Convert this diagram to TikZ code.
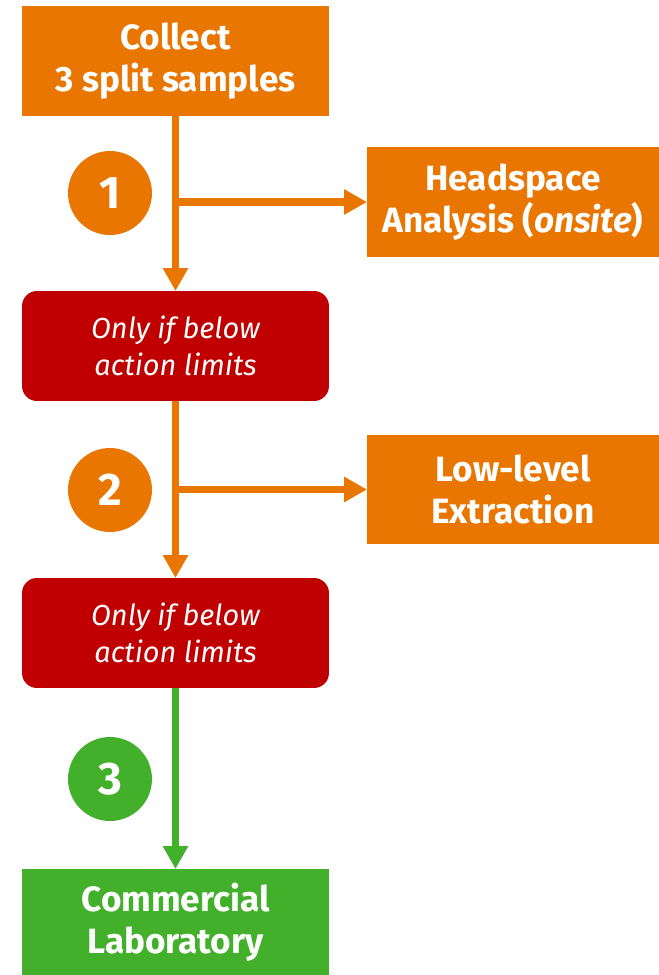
\documentclass[tikz,border=0pt]{standalone}
\usepackage{fontspec}
\setmainfont{Fira Sans}
\usetikzlibrary{arrows.meta}
\tikzset{>={Triangle[length=4.6mm,width=4.8mm]}}
\definecolor{sorange}{RGB}{233,118,0}
\definecolor{sred}{RGB}{192,0,0}
\definecolor{sgreen}{RGB}{67,176,44}

\begin{document}
\begin{tikzpicture}[x=0.02cm,y=-0.02cm,line width=4.5pt,
    box/.style={fill=#1,text=white,align=center,inner sep=0pt,outer sep=0pt,
      minimum width=6.14cm,minimum height=2.2cm,
      font=\fontsize{20}{24}\selectfont\bfseries},
    sidebox/.style={box=sorange,minimum width=5.84cm},
    limitbox/.style={box=sred,rounded corners=0.3cm,
      font=\fontsize{16.5}{21}\selectfont\itshape},
    stepnum/.style={circle,fill=#1,text=white,inner sep=0pt,
      minimum size=1.68cm,font=\fontsize{26}{30}\selectfont\bfseries}]
  \useasboundingbox (0,0) rectangle (659,975);
  % boxes down the left side
  \node[box=sorange] (collect) at (175.5,61) {Collect\\3 split samples};
  \node[limitbox] (limitA) at (175.5,346) {Only if below\\action limits};
  \node[limitbox] (limitB) at (175.5,633) {Only if below\\action limits};
  \node[box=sgreen,minimum height=2.12cm] (lab) at (175.5,922)
    {Commercial\\Laboratory};
  % boxes on the right
  \node[sidebox] (head) at (513,202) {Headspace\\Analysis (\textit{onsite})};
  \node[sidebox] (lowlev) at (513,489.5) {Low-level\\Extraction};
  % step numbers
  \node[stepnum=sorange] (one) at (110,193) {1};
  \node[stepnum=sorange] (two) at (110,490) {2};
  \node[stepnum=sgreen] (three) at (110,779) {3};
  % arrows
  \draw[->,sorange] (collect) -- (limitA);
  \draw[->,sorange] (collect.south |- head.west) -- (head.west);
  \draw[->,sorange] (limitA) -- (limitB);
  \draw[->,sorange] (limitA.south |- lowlev.west) -- (lowlev.west);
  \draw[->,sgreen] (limitB) -- (lab);
\end{tikzpicture}
\end{document}
